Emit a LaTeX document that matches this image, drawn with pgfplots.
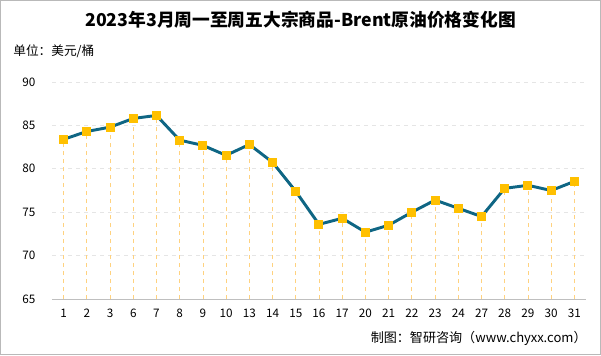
\documentclass[border=0pt]{standalone}
\usepackage{pgfplots}
\pgfplotsset{compat=1.18}
\usepackage{fontspec}
\setmainfont{Noto Sans CJK SC}
\definecolor{lineC}{HTML}{0F6684}
\definecolor{markC}{HTML}{FFC000}
\definecolor{dropC}{HTML}{FFD27F}
\begin{document}
\begin{tikzpicture}[x=1pt,y=1pt]
\draw[gray!55, line width=0.6pt] (0.3,0.3) rectangle (450.45,265.95);
\node[font=\fontsize{13.3}{15}\selectfont\bfseries] at (225.4,251.2) {2023年3月周一至周五大宗商品-Brent原油价格变化图};
\node[anchor=west, font=\fontsize{9.5}{11}\selectfont] at (6.5,228) {单位：美元/桶};
\node[anchor=east, font=\fontsize{9.8}{11}\selectfont] at (443.5,12.5) {制图：智研咨询（www.chyxx.com）};
\begin{axis}[
  at={(39pt,42pt)}, anchor=south west,
  scale only axis, width=400.5pt, height=162.75pt,
  xmin=-0.5, xmax=22.5, ymin=65, ymax=90,
  ytick={65,70,75,80,85,90},
  xtick={0,...,22},
  xticklabels={1,2,3,6,7,8,9,10,13,14,15,16,17,20,21,22,23,24,27,28,29,30,31},
  axis y line*=left, axis x line*=bottom,
  y axis line style={draw=none},
  x axis line style={gray!50, line width=0.7pt, -},
  ymajorgrids, y grid style={gray!20, dashed, line width=0.5pt},
  major tick length=0pt,
  tick label style={font=\fontsize{8.8}{10}\selectfont},
  /pgf/number format/assume math mode=true,
  xticklabel style={yshift=-4pt},
  yticklabel style={xshift=-9pt},
  clip=true,
]
\addplot[ycomb, dashed, dropC, line width=0.6pt] table {
x y
0 83.4
1 84.3
2 84.8
3 85.8
4 86.15
5 83.3
6 82.7
7 81.55
8 82.8
9 80.75
10 77.4
11 73.6
12 74.3
13 72.7
14 73.5
15 75.0
16 76.4
17 75.45
18 74.5
19 77.75
20 78.1
21 77.5
22 78.55
};
\addplot[lineC, line width=2.2pt, mark=square*, mark size=3pt,
  mark options={markC, draw=markC, line width=0pt}] table {
x y
0 83.4
1 84.3
2 84.8
3 85.8
4 86.15
5 83.3
6 82.7
7 81.55
8 82.8
9 80.75
10 77.4
11 73.6
12 74.3
13 72.7
14 73.5
15 75.0
16 76.4
17 75.45
18 74.5
19 77.75
20 78.1
21 77.5
22 78.55
};
\end{axis}
\end{tikzpicture}
\end{document}
